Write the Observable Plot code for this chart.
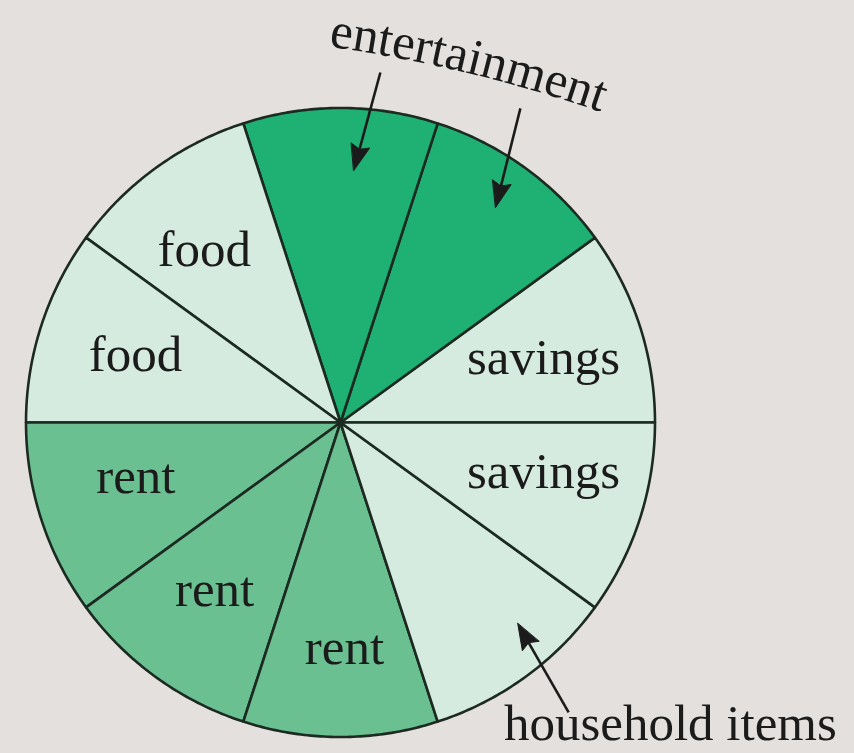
<!DOCTYPE html>
<html><head><meta charset="utf-8">
<script src="https://cdn.jsdelivr.net/npm/d3@7"></script>
<script src="https://cdn.jsdelivr.net/npm/@observablehq/plot@0.6"></script>
<style>
html,body{margin:0;padding:0;background:#e4e0dd;}
#chart{width:854px;height:753px;overflow:hidden;}
</style></head><body><div id="chart"></div>
<script>
// ---- data ----
const slices = ["savings","entertainment","entertainment","food","food","rent","rent","rent","household items","savings"];
const shares = [10,10,10,10,10,10,10,10,10,10];
const categories = ["savings","entertainment","food","rent","household items"];
const categoryColors = ["#d5ebe0","#1fb174","#d5ebe0","#6bc092","#d5ebe0"];
const sliceLabels = ["savings",null,null,"food","food","rent","rent","rent",null,"savings"];
const calloutTitle = "entertainment";
const calloutLabel = "household items";

// ---- annotation layout (polar: degrees, radius in pie radii) ----
const labelPolar = [[17.8,0.678],null,null,[128.2,0.70],[161.6,0.687],[194.8,0.673],[233,0.665],[271,0.716],null,[-13.6,0.664]];
const arrowPolar = [
  {tail:[83.5,1.120], tip:[87.0,0.802]},
  {tail:[60.2,1.151], tip:[54.2,0.843]},
  {tail:[-51.8,1.173], tip:[-48.6,0.852]}
];
const householdPos = [1.049,-0.958];
const titleArc = {start:[-0.038,1.1955], theta0:8, theta1:19};

const W = 854, H = 753;
const M = {left:25.5, right:199.5, top:107.5, bottom:16.5};
const pxPerUnit = (W - M.left - M.right) / 2;
const fontPx = 51;
const font = "Liberation Serif";
const ink = "#1b1b1b";
const edge = "#1c2a21";

const rad = d => d * Math.PI / 180;
const polar = (deg, r) => [r * Math.cos(rad(deg)), r * Math.sin(rad(deg))];

// slices
const total = d3.sum(shares);
let acc = 0;
const sliceRows = slices.map((cat, i) => {
  const a0 = acc / total * 360; acc += shares[i];
  const a1 = acc / total * 360;
  return {i, cat, a0, a1};
});
const polyPts = sliceRows.flatMap(s => {
  const n = 60;
  const pts = [{slice: s.i, cat: s.cat, x: 0, y: 0}];
  for (let k = 0; k <= n; k++) {
    const [x, y] = polar(s.a0 + (s.a1 - s.a0) * k / n, 1);
    pts.push({slice: s.i, cat: s.cat, x, y});
  }
  return pts;
});

// inside labels
const labelRows = sliceLabels.map((t, i) => t && labelPolar[i] ? {t, xy: polar(labelPolar[i][0], labelPolar[i][1])} : null).filter(Boolean);
labelRows.push({t: calloutLabel, xy: householdPos});

// arrows
const headLen = 26 / pxPerUnit, headHalf = 9.5 / pxPerUnit;
const shafts = [], heads = [];
arrowPolar.forEach((a, i) => {
  const [x1, y1] = polar(a.tail[0], a.tail[1]);
  const [x2, y2] = polar(a.tip[0], a.tip[1]);
  const L = Math.hypot(x2 - x1, y2 - y1);
  const ux = (x2 - x1) / L, uy = (y2 - y1) / L;
  const bx = x2 - ux * headLen, by = y2 - uy * headLen;
  shafts.push({x1, y1, x2: bx + ux * headLen * 0.3, y2: by + uy * headLen * 0.3});
  const px = -uy, py = ux;
  heads.push({a: i, x: x2, y: y2});
  heads.push({a: i, x: bx + px * headHalf, y: by + py * headHalf});
  heads.push({a: i, x: bx + ux * headLen * 0.15, y: by + uy * headLen * 0.15});
  heads.push({a: i, x: bx - px * headHalf, y: by - py * headHalf});
});

// curved title text
const ctx = document.createElement("canvas").getContext("2d");
ctx.font = `${fontPx}px "${font}"`;
const totalLen = ctx.measureText(calloutTitle).width / pxPerUnit;
const R = totalLen / rad(titleArc.theta1 - titleArc.theta0);
const th0 = rad(titleArc.theta0);
const titleChars = [...calloutTitle].map((ch, i) => {
  const s0 = ctx.measureText(calloutTitle.slice(0, i)).width / pxPerUnit;
  const w = ctx.measureText(ch).width / pxPerUnit;
  const s = s0 + w / 2;
  const th = th0 + s / R;
  const x = titleArc.start[0] + R * (Math.sin(th) - Math.sin(th0));
  const y = titleArc.start[1] - R * (Math.cos(th0) - Math.cos(th));
  return {ch, x, y, rot: th * 180 / Math.PI};
});

const chart = Plot.plot({
  width: W, height: H,
  marginLeft: M.left, marginRight: M.right, marginTop: M.top, marginBottom: M.bottom,
  x: {domain: [-1, 1], axis: null},
  y: {domain: [-1, 1], axis: null},
  color: {domain: categories, range: categoryColors},
  style: {background: "#e4e0dd", overflow: "visible"},
  marks: [
    Plot.line(polyPts, {x: "x", y: "y", z: "slice", fill: "cat", stroke: edge, strokeWidth: 2.6, curve: "linear-closed", strokeLinejoin: "round"}),
    Plot.text(labelRows, {x: d => d.xy[0], y: d => d.xy[1], text: "t", fontSize: fontPx, fontFamily: font, fill: ink, lineAnchor: "middle", textAnchor: "middle"}),
    Plot.text(titleChars, {x: "x", y: "y", text: "ch", rotate: "rot", fontSize: fontPx, fontFamily: font, fill: ink, lineAnchor: "bottom", textAnchor: "middle"}),
    Plot.link(shafts, {x1: "x1", y1: "y1", x2: "x2", y2: "y2", stroke: ink, strokeWidth: 2.6}),
    Plot.line(heads, {x: "x", y: "y", z: "a", fill: ink, stroke: ink, strokeWidth: 1, curve: "linear-closed"})
  ]
});
document.getElementById("chart").append(chart);
</script>
</body></html>
